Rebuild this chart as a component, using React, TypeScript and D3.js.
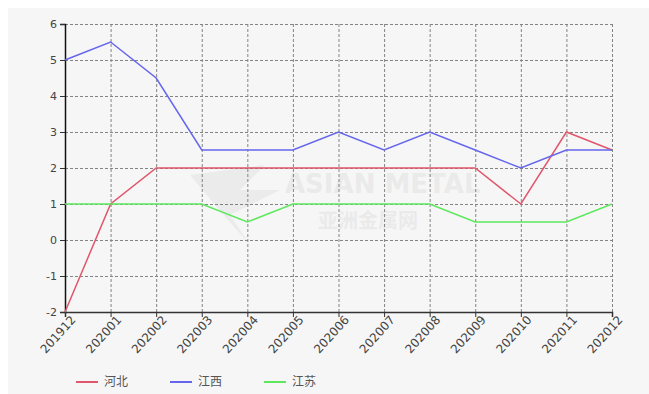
import React, { useEffect, useRef } from 'react';
import * as d3 from 'd3';

const months = ['201912', '202001', '202002', '202003', '202004', '202005', '202006', '202007', '202008', '202009', '202010', '202011', '202012'];
const hebei = [-2, 1, 2, 2, 2, 2, 2, 2, 2, 2, 1, 3, 2.5];
const jiangxi = [5, 5.5, 4.5, 2.5, 2.5, 2.5, 3, 2.5, 3, 2.5, 2, 2.5, 2.5];
const jiangsu = [1, 1, 1, 1, 0.5, 1, 1, 1, 1, 0.5, 0.5, 0.5, 1];
const yTicks = [-2, -1, 0, 1, 2, 3, 4, 5, 6];

const seriesList = [
  { name: '河北', values: hebei, color: '#e0566b' },
  { name: '江西', values: jiangxi, color: '#6565ee' },
  { name: '江苏', values: jiangsu, color: '#5ee85e' },
];

const W = 649;
const H = 394;

const App: React.FC = () => {
  const svgRef = useRef<SVGSVGElement>(null);

  useEffect(() => {
    if (!svgRef.current) return;
    const svg = d3.select(svgRef.current);
    svg.selectAll('*').remove();

    const left = 65, right = 612, top = 24, bottom = 312;
    const font = 'DejaVu Sans, sans-serif';

    // background
    svg.append('rect').attr('x', 0).attr('y', 0).attr('width', W).attr('height', H).attr('fill', '#fff');
    svg.append('rect').attr('x', 8).attr('y', 8).attr('width', W - 8).attr('height', H - 8).attr('fill', '#f6f6f6');

    const x = d3.scalePoint<string>().domain(months).range([left, right]);
    const y = d3.scaleLinear().domain([-2, 6]).range([bottom, top]);

    // watermark
    const wm = svg.append('g').attr('opacity', 0.09);
    wm.append('text').attr('x', 285).attr('y', 193).text('ASIAN METAL')
      .style('font-family', font).style('font-size', '26px').style('font-weight', 'bold').attr('fill', '#777');
    wm.append('text').attr('x', 318).attr('y', 228).text('亚洲金属网')
      .style('font-family', 'Noto Sans CJK SC, sans-serif').style('font-size', '20px').style('font-weight', 'bold').attr('fill', '#777');
    wm.append('path').attr('d', 'M190,175 L265,165 L240,190 L280,190 L230,215 L250,245 L215,205 Z').attr('fill', '#888');

    // grid
    const grid = svg.append('g').attr('stroke', '#555').attr('stroke-width', 1).attr('stroke-dasharray', '3,2').attr('opacity', 0.7);
    yTicks.forEach(t => {
      grid.append('line').attr('x1', left).attr('x2', right).attr('y1', y(t) + 0.5).attr('y2', y(t) + 0.5);
    });
    months.forEach(m => {
      grid.append('line').attr('x1', (x(m) || 0) + 0.5).attr('x2', (x(m) || 0) + 0.5).attr('y1', top).attr('y2', bottom);
    });

    // axes
    const yAxis = svg.append('g').attr('transform', `translate(${left},0)`)
      .call(d3.axisLeft(y).tickValues(yTicks).tickSize(5).tickPadding(3).tickFormat(d => String(d)));
    yAxis.select('.domain').attr('stroke', '#111').attr('stroke-width', 1.5);
    yAxis.selectAll('.tick line').attr('stroke', '#333');
    yAxis.selectAll('.tick text').attr('fill', '#444').style('font-family', font).style('font-size', '11px');

    const xAxis = svg.append('g').attr('transform', `translate(0,${bottom})`)
      .call(d3.axisBottom(x).tickSize(5).tickPadding(2));
    xAxis.select('.domain').attr('stroke', '#333').attr('stroke-width', 1.5);
    xAxis.selectAll('.tick line').attr('stroke', '#333');
    xAxis.selectAll<SVGTextElement, string>('.tick text')
      .attr('fill', '#444')
      .style('font-family', font)
      .style('font-size', '12px')
      .attr('text-anchor', 'end')
      .attr('dx', '0.1em')
      .attr('dy', '0.55em')
      .attr('transform', 'rotate(-48)');

    // lines
    const line = d3.line<number>().x((_, i) => x(months[i]) || 0).y(d => y(d));
    seriesList.forEach(s => {
      svg.append('path').datum(s.values).attr('d', line).attr('fill', 'none')
        .attr('stroke', s.color).attr('stroke-width', 1.5);
    });

    // legend
    const legendX = [76, 170, 264];
    seriesList.forEach((s, i) => {
      const g = svg.append('g').attr('transform', `translate(${legendX[i]},382)`);
      g.append('line').attr('x1', 0).attr('x2', 22).attr('y1', 0).attr('y2', 0).attr('stroke', s.color).attr('stroke-width', 2);
      g.append('text').attr('x', 28).attr('y', 4).text(s.name)
        .style('font-family', 'Noto Sans CJK SC, sans-serif').style('font-size', '12px').attr('fill', '#555');
    });
  }, []);

  return (
    <svg ref={svgRef} width={W} height={H} style={{ position: 'absolute', left: 0, top: 0 }} />
  );
};

export default App;
